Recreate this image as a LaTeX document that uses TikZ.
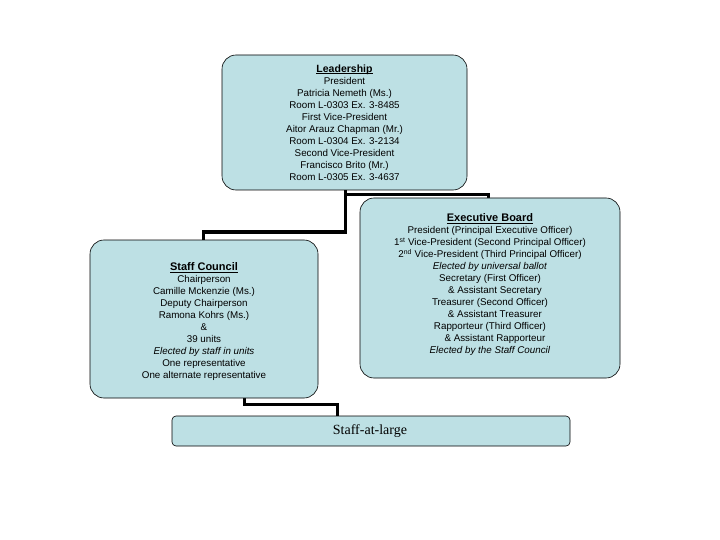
\documentclass[tikz,border=0pt]{standalone}
\usepackage{fontspec}
\setmainfont{Liberation Sans}
\newfontfamily\serifx{Liberation Serif}
\newcommand{\ul}[1]{\textbf{#1}\llap{\rule[-1.5pt]{\widthof{\textbf{#1}}}{0.6pt}}}
\usepackage{calc}
\begin{document}
\begin{tikzpicture}[x=1pt,y=-1pt,
 box/.style={draw=black,fill=boxc,rounded corners=14pt,line width=0.6pt},
 con/.style={line width=3pt},
 txt/.style={align=center,font=\fontsize{9.8}{12}\selectfont,inner sep=0}]
\definecolor{boxc}{RGB}{189,224,228}
\useasboundingbox (0,0) rectangle (720,540);
\draw[con] (345,190) -- (345,232) -- (203,232) -- (203,242);
\draw[con] (345,195) -- (488,195) -- (488,200);
\draw[con] (244,398) -- (244,404) -- (337,404) -- (337,418);
\draw[box] (222,55) rectangle (467,190) node[pos=0.5,txt] (lead) {{\fontsize{10.5}{12}\selectfont\ul{Leadership}}\\President\\Patricia Nemeth (Ms.)\\Room L-0303 Ex. 3-8485\\First Vice-President\\Aitor Arauz Chapman (Mr.)\\Room L-0304 Ex. 3-2134\\Second Vice-President\\Francisco Brito (Mr.)\\Room L-0305 Ex. 3-4637};
\draw[box] (360,198) rectangle (620,378) node[pos=0.5,txt,yshift=3pt] (exec) {{\fontsize{11}{12}\selectfont\ul{Executive Board}}\\President (Principal Executive Officer)\\1\textsuperscript{st} Vice-President (Second Principal Officer)\\2\textsuperscript{nd} Vice-President (Third Principal Officer)\\\textit{Elected by universal ballot}\\Secretary (First Officer)\\\quad\& Assistant Secretary\\Treasurer (Second Officer)\\\quad\& Assistant Treasurer\\Rapporteur (Third Officer)\\\quad\& Assistant Rapporteur\\\textit{Elected by the Staff Council}};
\draw[box] (90,240) rectangle (318,398) node[pos=0.5,txt,yshift=-3pt] (staff) {{\fontsize{11}{12}\selectfont\ul{Staff Council}}\\Chairperson\\Camille Mckenzie (Ms.)\\Deputy Chairperson\\Ramona Kohrs (Ms.)\\\&\\39 units\\\textit{Elected by staff in units}\\One representative\\One alternate representative};
\draw[box,rounded corners=4pt] (172,416) rectangle (570,446) node[pos=0.5,inner sep=0,font=\serifx\fontsize{14}{16}\selectfont,xshift=-1pt] (large) {Staff-at-large};
\end{tikzpicture}
\end{document}
